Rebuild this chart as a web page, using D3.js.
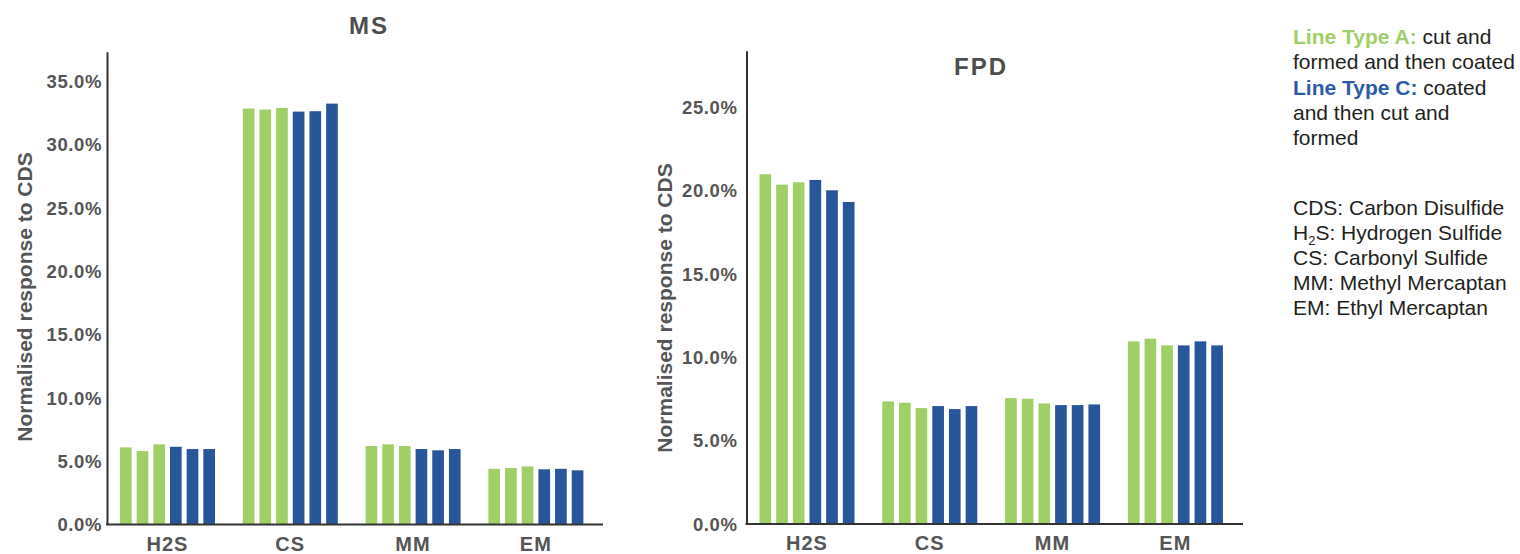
<!DOCTYPE html>
<html>
<head>
<meta charset="utf-8">
<script src="https://cdn.jsdelivr.net/npm/d3@7"></script>
<style>
  body { margin: 0; background: #fff; }
  svg { display: block; font-family: "Liberation Sans", Arial, sans-serif; }
</style>
</head>
<body>
<svg id="svg" width="1520" height="554"></svg>
<script>
var categories = ["H2S", "CS", "MM", "EM"];
var seriesNames = ["A-1", "A-2", "A-3", "C-1", "C-2", "C-3"];
var seriesType = ["A", "A", "A", "C", "C", "C"];

// one row per category, one value per series (percent)
var msValues = [
  [6.05, 5.76, 6.29, 6.10, 5.92, 5.92],
  [32.81, 32.73, 32.86, 32.57, 32.60, 33.20],
  [6.16, 6.29, 6.16, 5.92, 5.82, 5.92],
  [4.36, 4.42, 4.55, 4.32, 4.36, 4.24]
];
var fpdValues = [
  [20.94, 20.32, 20.46, 20.60, 19.98, 19.28],
  [7.32, 7.24, 6.92, 7.04, 6.86, 7.04],
  [7.52, 7.48, 7.20, 7.10, 7.10, 7.14],
  [10.92, 11.08, 10.68, 10.68, 10.92, 10.68]
];
var msTicks = [0, 5, 10, 15, 20, 25, 30, 35];
var fpdTicks = [0, 5, 10, 15, 20, 25];

var colors = { A: "#9FCF66", C: "#29559A" };
var textGrey = "#555555";

var svg = d3.select("#svg");

function drawChart(cfg) {
  var g = svg.append("g").classed("chart", true);
  var groupWidth = 122.8;

  var y = d3.scaleLinear()
    .domain([0, cfg.max])
    .range([cfg.yZero, cfg.yTop]);

  var x = d3.scaleBand()
    .domain(categories)
    .range([cfg.left, cfg.left + groupWidth * categories.length]);

  var inner = d3.scaleBand()
    .domain(d3.range(seriesNames.length))
    .range([14, 109])
    .paddingInner(0.3);

  var groups = g.selectAll(".cat").data(cfg.values).enter()
    .append("g")
    .classed("cat", true)
    .attr("transform", function(d, i) {
      return "translate(" + x(categories[i]) + ",0)";
    });

  groups.selectAll("rect").data(function(d) { return d; }).enter()
    .append("rect")
    .attr("x", function(d, j) { return inner(j); })
    .attr("width", inner.bandwidth())
    .attr("y", function(d) { return y(d); })
    .attr("height", function(d) { return y(0) - y(d); })
    .attr("fill", function(d, j) { return colors[seriesType[j]]; });

  // y axis
  var yAxis = d3.axisLeft(y)
    .tickValues(cfg.ticks)
    .tickSize(0)
    .tickSizeOuter(0)
    .tickPadding(cfg.tickPad)
    .tickFormat(function(d) { return d.toFixed(1) + "%"; });

  var ya = g.append("g")
    .attr("transform", "translate(" + cfg.axisX + ",0)")
    .call(yAxis);
  ya.select(".domain").attr("stroke", "#333").attr("stroke-width", 2);
  ya.selectAll("text")
    .attr("fill", textGrey)
    .attr("font-size", 18.5)
    .attr("font-weight", "bold")
    .attr("letter-spacing", 0.6)
    .attr("dy", "0.36em");

  // x axis
  var xAxis = d3.axisBottom(x).tickSize(0).tickPadding(12);
  var xa = g.append("g")
    .attr("transform", "translate(0," + (cfg.yZero + 0.5) + ")")
    .call(xAxis);
  xa.select(".domain").remove();
  xa.selectAll("text")
    .attr("fill", textGrey)
    .attr("font-size", 20)
    .attr("font-weight", "bold")
    .attr("letter-spacing", 1);

  g.append("line")
    .attr("x1", cfg.axisX - 1)
    .attr("x2", cfg.axisEnd)
    .attr("y1", cfg.yZero + 0.5)
    .attr("y2", cfg.yZero + 0.5)
    .attr("stroke", "#333")
    .attr("stroke-width", 2);

  // chart title
  g.append("text")
    .attr("x", cfg.titleX)
    .attr("y", cfg.titleY)
    .attr("text-anchor", "middle")
    .attr("fill", "#4d4d4d")
    .attr("font-size", 24)
    .attr("font-weight", "bold")
    .attr("letter-spacing", 2)
    .text(cfg.title);

  // y axis title
  g.append("text")
    .attr("transform", "translate(" + cfg.yTitleX + "," + cfg.yTitleY + ") rotate(-90)")
    .attr("text-anchor", "middle")
    .attr("fill", textGrey)
    .attr("font-size", 21)
    .attr("font-weight", "bold")
    .text("Normalised response to CDS");
}

drawChart({
  values: msValues, ticks: msTicks, max: 37.3,
  left: 106, axisX: 107, axisEnd: 603,
  yZero: 524, yTop: 51.7, tickPad: 5,
  title: "MS", titleX: 369, titleY: 34,
  yTitleX: 32, yTitleY: 297
});

drawChart({
  values: fpdValues, ticks: fpdTicks, max: 28.35,
  left: 745.5, axisX: 746.5, axisEnd: 1243,
  yZero: 523.5, yTop: 50.7, tickPad: 9,
  title: "FPD", titleX: 981, titleY: 75,
  yTitleX: 672, yTitleY: 308
});

// legend / notes
var notes = svg.append("g").classed("notes", true)
  .attr("font-size", 21)
  .attr("fill", "#231f20");

var lineTypes = [
  { label: "Line Type A:", color: colors.A, lines: [" cut and", "formed and then coated"] },
  { label: "Line Type C:", color: "#2B5CA6", lines: [" coated", "and then cut and", "formed"] }
];

var ly = 44;
lineTypes.forEach(function(t) {
  t.lines.forEach(function(line, i) {
    var txt = notes.append("text").attr("x", 1293).attr("y", ly);
    if (i === 0) {
      txt.append("tspan").attr("font-weight", "bold").attr("fill", t.color).text(t.label);
    }
    txt.append("tspan").text(line);
    ly += 25.3;
  });
});

var abbreviations = [
  ["CDS", ": Carbon Disulfide"],
  ["H2S", ": Hydrogen Sulfide"],
  ["CS", ": Carbonyl Sulfide"],
  ["MM", ": Methyl Mercaptan"],
  ["EM", ": Ethyl Mercaptan"]
];

abbreviations.forEach(function(a, i) {
  var txt = notes.append("text").attr("x", 1293).attr("y", 215 + i * 25.1);
  if (a[0] === "H2S") {
    txt.append("tspan").text("H");
    txt.append("tspan").attr("font-size", 13).attr("dy", 5).text("2");
    txt.append("tspan").attr("dy", -5).text("S" + a[1]);
  } else {
    txt.text(a[0] + a[1]);
  }
});
</script>
</body>
</html>
